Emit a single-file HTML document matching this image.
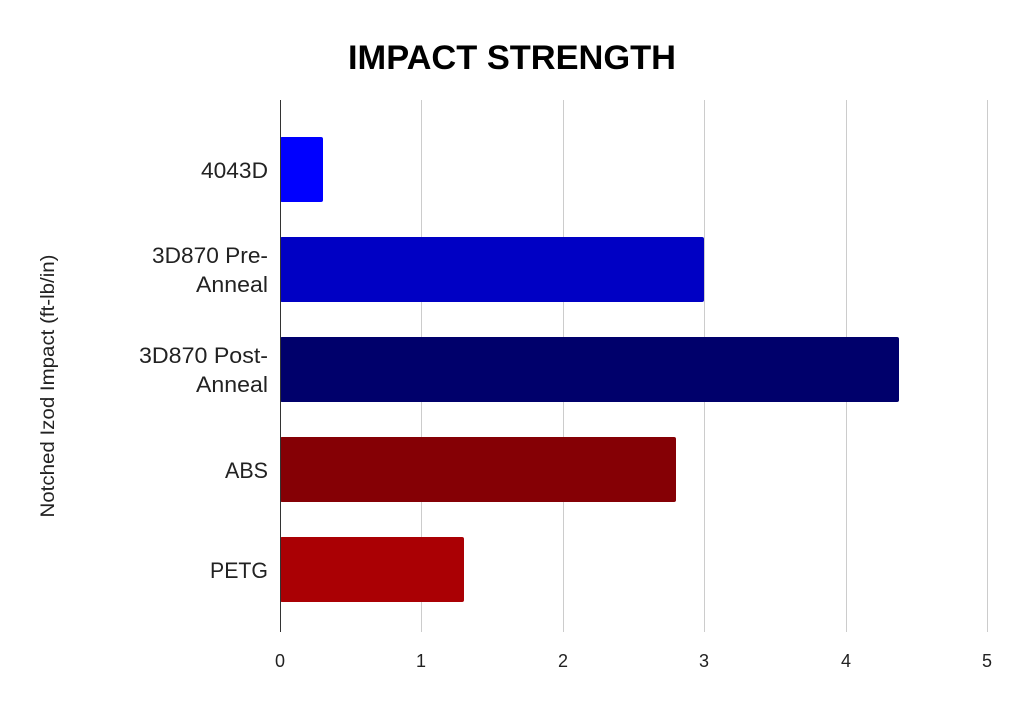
<!DOCTYPE html>
<html><head><style>
body{margin:0;background:#fff;}
svg text{font-family:"Liberation Sans",Roboto,sans-serif;}
</style></head><body>
<svg width="1022" height="706" xmlns="http://www.w3.org/2000/svg">
<rect width="1022" height="706" fill="#fff"/>
<text x="512" y="69" text-anchor="middle" font-size="34" font-weight="bold" fill="#000" textLength="328" lengthAdjust="spacingAndGlyphs">IMPACT STRENGTH</text>
<g stroke="#cccccc" stroke-width="1">
<line x1="421.5" y1="100" x2="421.5" y2="632"/>
<line x1="563.5" y1="100" x2="563.5" y2="632"/>
<line x1="704.5" y1="100" x2="704.5" y2="632"/>
<line x1="846.5" y1="100" x2="846.5" y2="632"/>
<line x1="987.5" y1="100" x2="987.5" y2="632"/>
</g>
<rect x="280" y="137" width="43" height="65" rx="2" fill="#0000ff"/>
<rect x="280" y="237" width="424" height="65" rx="2" fill="#0000c4"/>
<rect x="280" y="337" width="619" height="65" rx="2" fill="#00006b"/>
<rect x="280" y="437" width="396" height="65" rx="2" fill="#850005"/>
<rect x="280" y="537" width="184" height="65" rx="2" fill="#aa0004"/>
<line x1="280.5" y1="100" x2="280.5" y2="632" stroke="#333" stroke-width="1"/>
<g font-size="22" fill="#222" text-anchor="end">
<text x="268" y="178" textLength="67" lengthAdjust="spacingAndGlyphs">4043D</text>
<text x="268" y="263" textLength="116" lengthAdjust="spacingAndGlyphs">3D870 Pre-</text>
<text x="268" y="292" textLength="72" lengthAdjust="spacingAndGlyphs">Anneal</text>
<text x="268" y="363" textLength="129" lengthAdjust="spacingAndGlyphs">3D870 Post-</text>
<text x="268" y="392" textLength="72" lengthAdjust="spacingAndGlyphs">Anneal</text>
<text x="268" y="478" textLength="43" lengthAdjust="spacingAndGlyphs">ABS</text>
<text x="268" y="578" textLength="58" lengthAdjust="spacingAndGlyphs">PETG</text>
</g>
<g font-size="18" fill="#222" text-anchor="middle">
<text x="280" y="667">0</text>
<text x="421" y="667">1</text>
<text x="563" y="667">2</text>
<text x="704" y="667">3</text>
<text x="846" y="667">4</text>
<text x="987" y="667">5</text>
</g>
<text transform="translate(54,386) rotate(-90)" font-size="19" fill="#222" text-anchor="middle" textLength="263" lengthAdjust="spacingAndGlyphs">Notched Izod Impact (ft-lb/in)</text>
</svg>
</body></html>
